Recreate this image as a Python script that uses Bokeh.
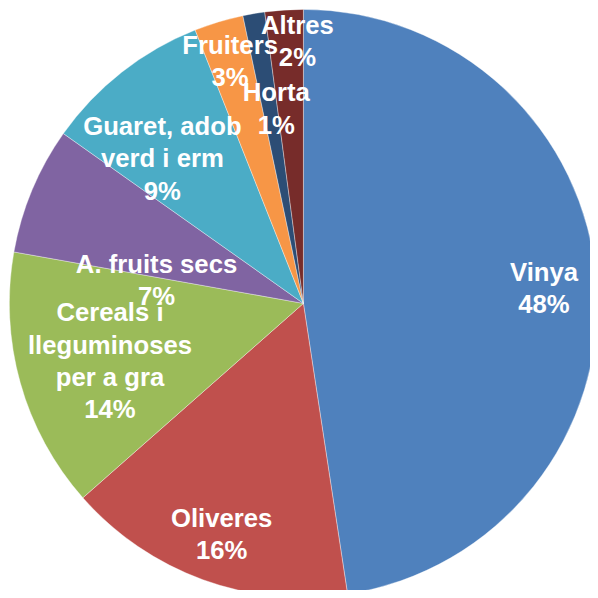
import math
from bokeh.plotting import figure
from bokeh.models import ColumnDataSource, Range1d
from bokeh.core.properties import value
from bokeh.embed import file_html
from bokeh.resources import INLINE

# ---- data ----
categories = ["Vinya", "Oliveres", "Cereals i\nlleguminoses\nper a gra", "A. fruits secs",
              "Guaret, adob\nverd i erm", "Fruiters", "Horta", "Altres"]
shares = [47.6, 15.9, 14.3, 7.0, 9.2, 2.7, 1.2, 2.1]
colors = ["#4F81BD", "#C0504D", "#9BBB59", "#8064A2", "#4BACC6", "#F79646", "#2C4D75", "#772C2A"]

# ---- label layout (radius fraction, angle in degrees clockwise from 12 o'clock) ----
label_r = [0.820, 0.833, 0.686, 0.506, 0.688, 0.8625, 0.669, 0.894]
label_deg = [86.4, 199.5, 253.5, 279.2, 315.8, 343.2, 352.1, 358.7]

total = sum(shares)
starts, ends = [], []
acc = 0.0
for s in shares:
    a0 = math.pi / 2 - 2 * math.pi * acc / total
    acc += s
    a1 = math.pi / 2 - 2 * math.pi * acc / total
    starts.append(a0)
    ends.append(a1)

src = ColumnDataSource(dict(start=starts, end=ends, color=colors))

W = H = 590
S = W / 598.0
CX = 307 * S
CY = 307 * S
R = 298 * S

p = figure(width=W, height=H, output_backend="svg", toolbar_location=None,
           min_border=0, outline_line_color=None)
p.x_range = Range1d(-CX / R, (W - CX) / R)
p.y_range = Range1d(-(H - CY) / R, CY / R)
p.axis.visible = False
p.grid.visible = False
p.background_fill_color = "white"
p.border_fill_color = "white"

p.wedge(x=0, y=0, radius=1.0, start_angle="start", end_angle="end", direction="clock",
        fill_color="color", line_color="white", line_width=0.6, line_alpha=0.6, source=src)

lx, ly, texts = [], [], []
for cat, s, r, d in zip(categories, shares, label_r, label_deg):
    t = math.radians(d)
    lx.append(r * math.sin(t))
    ly.append(r * math.cos(t))
    texts.append(f"{cat}\n{round(s)}%")

lsrc = ColumnDataSource(dict(x=lx, y=ly, text=texts))
p.text(x="x", y="y", text="text", source=lsrc, text_color="white",
       text_font=value("Liberation Sans"), text_font_style="bold",
       text_font_size=f"{26 * S:.1f}px",
       text_align="center", text_baseline="middle", text_line_height=1.15)

open("out.html", "w").write(file_html(p, INLINE))
